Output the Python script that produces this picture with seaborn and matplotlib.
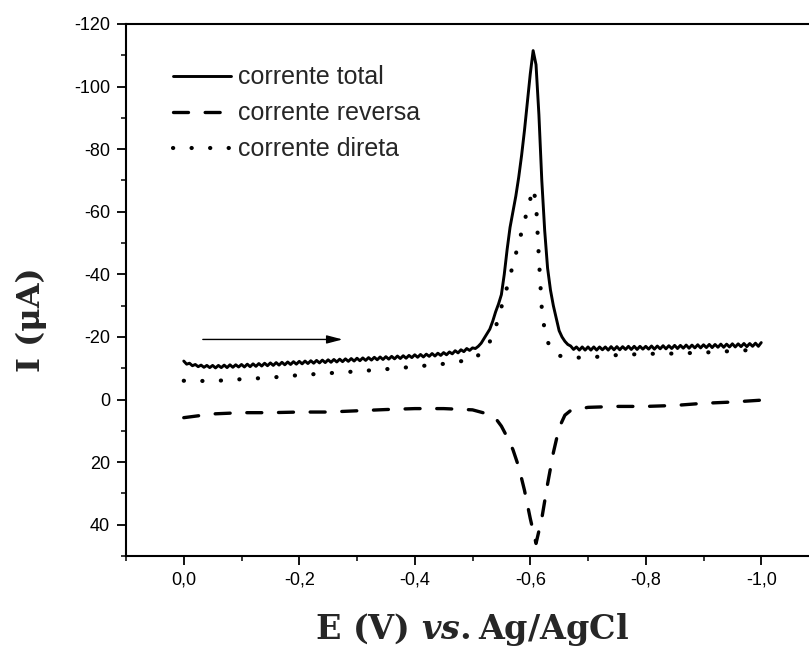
import numpy as np
import pandas as pd
import matplotlib
matplotlib.use("Agg")
import matplotlib.pyplot as plt
import seaborn as sns

# ---- data -------------------------------------------------------------
# total current, sampled every 5 mV from 0.000 V to -1.000 V
potential_total = np.round(np.linspace(0.0, -1.0, 201), 3)
current_total = [
    -12.3, -11.3, -11.6, -10.8, -11.2, -10.5, -11.0, -10.3, -10.9, -10.2,
    -10.9, -10.1, -10.9, -10.2, -11.0, -10.2, -11.1, -10.3, -11.1, -10.4,
    -11.2, -10.4, -11.3, -10.5, -11.4, -10.6, -11.5, -10.7, -11.6, -10.8,
    -11.7, -10.9, -11.8, -11.0, -11.9, -11.1, -12.0, -11.2, -12.1, -11.3,
    -12.2, -11.4, -12.3, -11.5, -12.4, -11.6, -12.5, -11.7, -12.6, -11.8,
    -12.7, -11.9, -12.8, -12.0, -12.9, -12.1, -13.0, -12.2, -13.1, -12.3,
    -13.2, -12.4, -13.3, -12.5, -13.4, -12.6, -13.5, -12.7, -13.6, -12.8,
    -13.7, -12.9, -13.8, -13.0, -13.9, -13.1, -14.0, -13.2, -14.1, -13.4,
    -14.3, -13.5, -14.4, -13.6, -14.5, -13.8, -14.7, -13.9, -14.8, -14.1,
    -15.0, -14.3, -15.2, -14.6, -15.6, -14.9, -15.9, -15.3, -16.3, -15.7,
    -16.5, -16.3, -17.0, -18.0, -19.5, -21.0, -22.5, -25.0, -28.0, -30.5,
    -33.5, -40.0, -48.0, -55.0, -60.0, -65.0, -71.0, -78.0, -86.0, -95.0,
    -104.0, -111.5, -107.0, -91.0, -70.0, -54.0, -42.0, -35.0, -30.0, -26.0,
    -22.0, -20.0, -18.6, -17.6, -17.1, -16.0, -16.8, -15.8, -16.8, -15.8,
    -16.8, -15.8, -16.8, -15.8, -16.8, -15.9, -16.8, -15.8, -16.9, -15.9,
    -16.9, -15.9, -16.9, -16.0, -17.0, -16.0, -17.0, -16.0, -17.0, -16.1,
    -17.0, -16.1, -17.1, -16.1, -17.1, -16.2, -17.2, -16.2, -17.2, -16.3,
    -17.3, -16.3, -17.3, -16.4, -17.4, -16.4, -17.4, -16.5, -17.5, -16.5,
    -17.5, -16.6, -17.6, -16.6, -17.6, -16.7, -17.7, -16.7, -17.7, -16.8,
    -17.8, -16.8, -17.8, -16.9, -17.9, -16.9, -17.9, -17.0, -18.0, -17.0,
    -18.2,
]

potential_reverse = [
    0.00, -0.05, -0.10, -0.15, -0.20, -0.25, -0.30, -0.35, -0.40, -0.45,
    -0.50, -0.52, -0.54, -0.55, -0.56, -0.57, -0.58, -0.59, -0.60, -0.61,
    -0.62, -0.63, -0.64, -0.65, -0.66, -0.67, -0.70, -0.75, -0.80, -0.85,
    -0.90, -0.95, -1.00,
]
current_reverse = [
    5.8, 4.6, 4.2, 4.2, 4.0, 4.0, 3.6, 3.2, 2.9, 2.9,
    3.3, 4.3, 6.0, 8.5, 12.0, 16.0, 21.5, 29.0, 38.0, 46.0,
    38.0, 27.0, 17.0, 9.0, 5.0, 3.5, 2.5, 2.2, 2.2, 1.9,
    1.2, 0.8, 0.2,
]

potential_direct = [
    0.00, -0.05, -0.10, -0.15, -0.20, -0.25, -0.30, -0.35, -0.40, -0.45,
    -0.50, -0.52, -0.53, -0.54, -0.55, -0.56, -0.57, -0.58, -0.59, -0.60,
    -0.605, -0.61, -0.615, -0.62, -0.625, -0.63, -0.64, -0.65, -0.67, -0.70,
    -0.75, -0.80, -0.85, -0.90, -0.95, -1.00,
]
current_direct = [
    -6.0, -5.9, -6.5, -7.0, -7.8, -8.4, -9.0, -9.7, -10.5, -11.4,
    -12.8, -15.5, -18.5, -23.0, -29.5, -36.0, -43.0, -50.0, -57.0, -64.0,
    -67.5, -63.0, -45.0, -29.0, -22.0, -18.5, -15.0, -14.0, -13.4, -13.4,
    -14.2, -14.6, -14.7, -15.0, -15.5, -16.0,
]

series_labels = ["corrente total", "corrente reversa", "corrente direta"]

x_ticks = [0.0, -0.2, -0.4, -0.6, -0.8, -1.0]
x_tick_labels = ["0,0", "-0,2", "-0,4", "-0,6", "-0,8", "-1,0"]
y_ticks = [-120, -100, -80, -60, -40, -20, 0, 20, 40]
y_tick_labels = ["-120", "-100", "-80", "-60", "-40", "-20", "0", "20", "40"]

# ---- style ------------------------------------------------------------
sns.set_theme(style="ticks")
plt.rcParams["font.family"] = ["Liberation Sans", "DejaVu Sans"]
plt.rcParams["mathtext.fontset"] = "custom"
plt.rcParams["mathtext.rm"] = "DejaVu Serif:bold"
plt.rcParams["mathtext.it"] = "DejaVu Serif:italic:bold"
plt.rcParams["mathtext.bf"] = "DejaVu Serif:bold"

fig = plt.figure(figsize=(8.09, 6.55), dpi=100)
ax = fig.add_axes([126 / 809, 99 / 655, 693 / 809, 532 / 655])

df_total = pd.DataFrame({"E": potential_total, "I": current_total})
df_rev = pd.DataFrame({"E": potential_reverse, "I": current_reverse})
df_dir = pd.DataFrame({"E": potential_direct, "I": current_direct})

# curves are drawn in sweep order (0 V towards -1 V)
sns.lineplot(data=df_total, x="E", y="I", ax=ax, color="black", lw=2.1,
             sort=False, label=series_labels[0], solid_joinstyle="round")
sns.lineplot(data=df_rev, x="E", y="I", ax=ax, color="black", lw=2.4,
             sort=False, label=series_labels[1], linestyle=(0, (4.5, 5.0)),
             dash_capstyle="round")
sns.lineplot(data=df_dir, x="E", y="I", ax=ax, color="black", lw=3.0,
             sort=False, label=series_labels[2],
             linestyle=(0, (0.05, 4.4)), dash_capstyle="round")

# scan direction
ax.annotate("", xy=(-0.275, -19.2), xytext=(-0.033, -19.2),
            arrowprops=dict(arrowstyle="-|>,head_length=0.95,head_width=0.25",
                            color="black", lw=1.0, mutation_scale=10,
                            shrinkA=0, shrinkB=0))

ax.set_xlim(0.1, -1.1)
ax.set_ylim(50, -120)
ax.set_xticks(x_ticks)
ax.set_xticklabels(x_tick_labels)
ax.set_yticks(y_ticks)
ax.set_yticklabels(y_tick_labels)
ax.set_xticks(np.arange(0.1, -1.15, -0.1), minor=True)
ax.set_yticks(np.arange(50, -125, -10), minor=True)
ax.tick_params(axis="both", which="major", direction="out", length=6.5,
               width=1.3, labelsize=13, colors="black", pad=5)
ax.tick_params(axis="both", which="minor", direction="out", length=3.5,
               width=1.3)
ax.tick_params(top=False, right=False, which="both")
for s in ax.spines.values():
    s.set_linewidth(1.5)
    s.set_color("black")
    s.set_visible(True)

ax.set_xlabel(r"E (V) $\mathit{vs.}$Ag/AgCl", fontsize=24,
              fontfamily="DejaVu Serif", fontweight="bold")
ax.set_ylabel("I (μA)", fontsize=23, fontfamily="DejaVu Serif",
              fontweight="bold")
ax.xaxis.set_label_coords(0.5, -0.103)
ax.yaxis.set_label_coords(-0.114, 0.444)

ax.legend(loc="upper left", bbox_to_anchor=(0.068, 0.922), frameon=False,
          fontsize=18, handlelength=2.3, handletextpad=0.3,
          labelspacing=0.48, borderpad=0, borderaxespad=0)

fig.savefig("out.png", dpi=100)
